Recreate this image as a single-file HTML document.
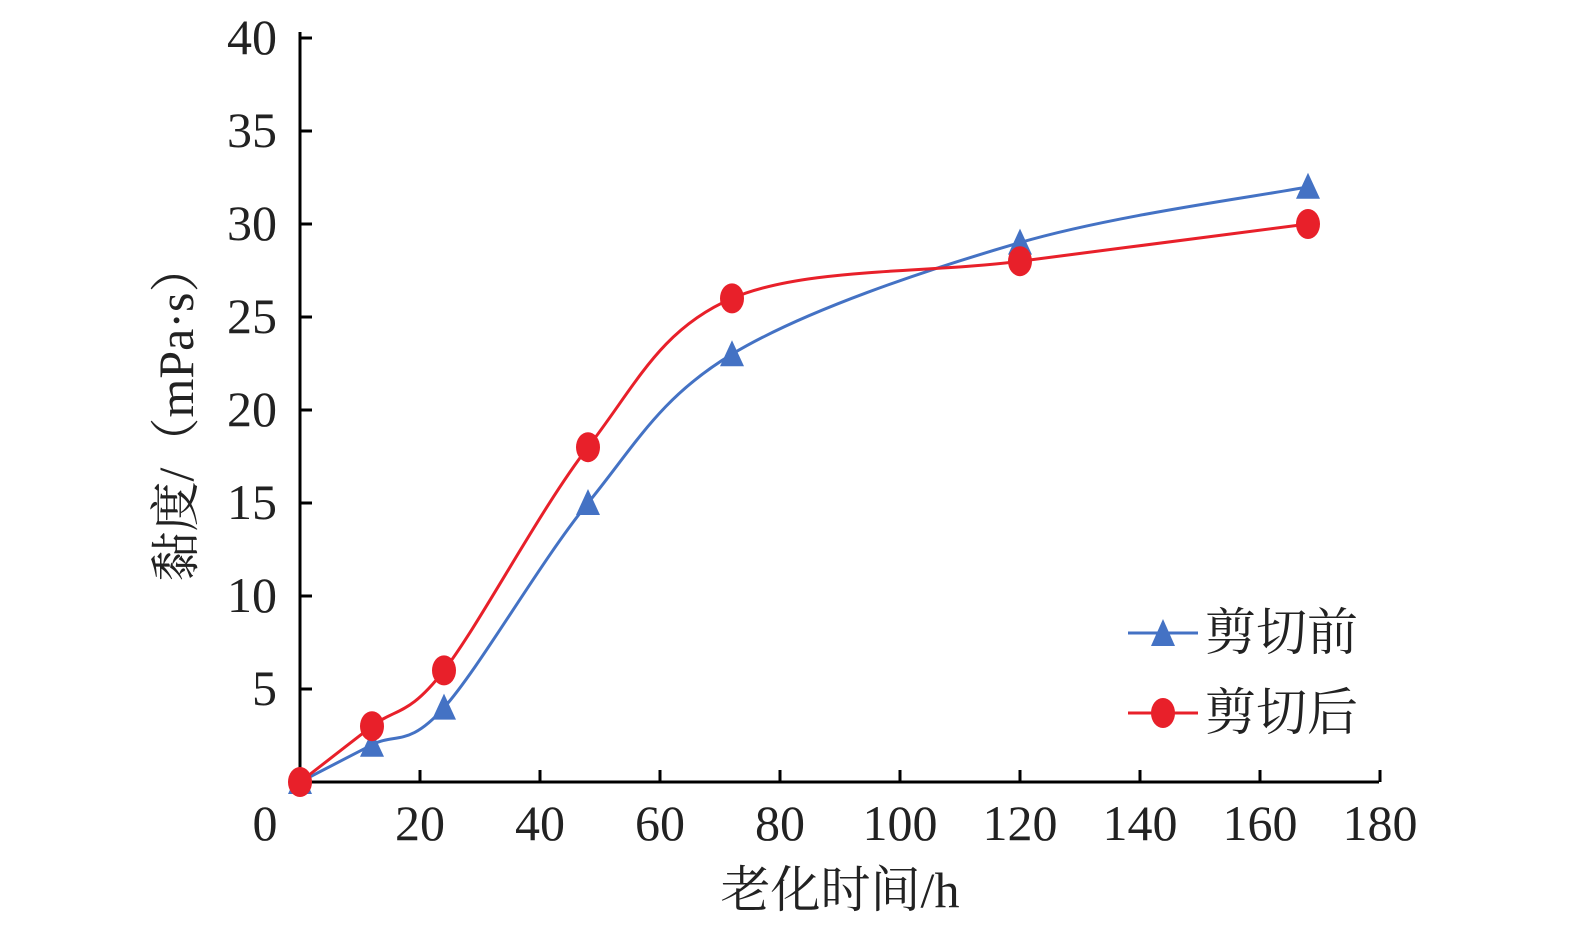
<!DOCTYPE html>
<html><head><meta charset="utf-8"><style>
html,body{margin:0;padding:0;background:#fff;}
svg{display:block;font-family:"Liberation Serif","Noto Serif CJK SC",serif;}
</style></head><body>
<svg id="s" width="1575" height="935" viewBox="0 0 1575 935">
<g stroke="#000" stroke-width="3" fill="none">
<line x1="300" y1="32" x2="300" y2="782"/>
<line x1="298" y1="782" x2="1379" y2="782"/>
</g>
<g id="ticks" stroke="#000" stroke-width="3"></g>
<g id="labels" font-size="50" fill="#222"></g>
<g id="series"></g>
<text x="840" y="907" font-size="50" text-anchor="middle" fill="#222">老化时间/h</text>
<text transform="translate(193,412) rotate(-90)" font-size="50" text-anchor="middle" fill="#222">黏度/（mPa·s）</text>
<line x1="1128" y1="633" x2="1198" y2="633" stroke="#4472C4" stroke-width="3"/>
<polygon points="1163,619 1175,646 1151,646" fill="#4472C4"/>
<text x="1205" y="650" font-size="51" fill="#222">剪切前</text>
<line x1="1128" y1="713" x2="1198" y2="713" stroke="#E8202A" stroke-width="3"/>
<ellipse cx="1163" cy="713" rx="12" ry="15" fill="#E8202A"/>
<text x="1205" y="730" font-size="51" fill="#222">剪切后</text>
</svg>
<script>
var NS="http://www.w3.org/2000/svg";
function X(v){return 300+6*v;}function Y(v){return 782-18.6*v;}
function el(t,a,p,txt){var e=document.createElementNS(NS,t);for(var k in a)e.setAttribute(k,a[k]);if(txt!=null)e.textContent=txt;p.appendChild(e);return e;}
var tk=document.getElementById('ticks'),lb=document.getElementById('labels');
for(var v=5;v<=40;v+=5){el('line',{x1:300,y1:Y(v),x2:312,y2:Y(v)},tk);el('text',{x:277,y:Y(v)+16,'text-anchor':'end'},lb,String(v));}
for(var v=0;v<=180;v+=20){if(v>0)el('line',{x1:X(v),y1:782,x2:X(v),y2:770},tk);el('text',{x:v==0?265:X(v),y:840,'text-anchor':'middle'},lb,String(v));}
var xs=[0,12,24,48,72,120,168];
var blue=[0,2,4,15,23,29,32],red=[0,3,6,18,26,28,30];
var sg=document.getElementById('series');
function path(ys,c){var P=xs.map(function(x,i){return [X(x),Y(ys[i])];});var d="M"+P[0][0]+","+P[0][1];
for(var i=0;i<P.length-1;i++){var p0=P[i-1]||P[i],p1=P[i],p2=P[i+1],p3=P[i+2]||P[i+1];var t=1/6;
d+=" C"+(p1[0]+(p2[0]-p0[0])*t)+","+(p1[1]+(p2[1]-p0[1])*t)+" "+(p2[0]-(p3[0]-p1[0])*t)+","+(p2[1]-(p3[1]-p1[1])*t)+" "+p2[0]+","+p2[1];}
el('path',{d:d,fill:'none',stroke:c,'stroke-width':3},sg);return P;}
var Pb=path(blue,'#4472C4'),Pr=path(red,'#E8202A');
Pb.forEach(function(p){el('polygon',{points:p[0]+","+(p[1]-14)+" "+(p[0]+12)+","+(p[1]+12)+" "+(p[0]-12)+","+(p[1]+12),fill:'#4472C4'},sg);});
Pr.forEach(function(p){el('ellipse',{cx:p[0],cy:p[1],rx:12,ry:15,fill:'#E8202A'},sg);});
</script>
</body></html>
